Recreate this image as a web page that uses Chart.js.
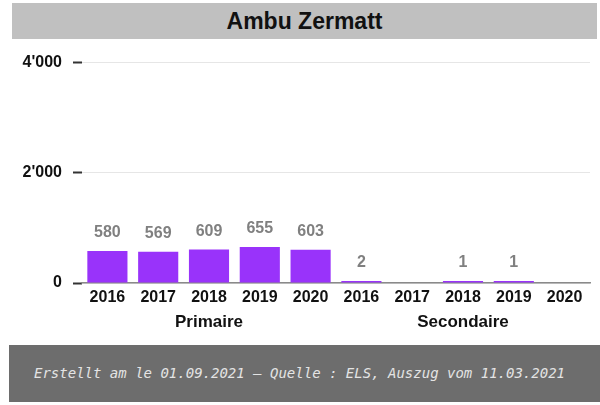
<!DOCTYPE html>
<html lang="fr">
<head>
  <meta charset="utf-8"/>
  <title>Ambu Zermatt</title>
  <script src="https://cdn.jsdelivr.net/npm/chart.js@4.4.0/dist/chart.umd.min.js"></script>
  <style>
    html, body { margin: 0; padding: 0; background: #fff; }
    body { width: 600px; height: 405px; position: relative; overflow: hidden; font-family: "Liberation Sans", Arial, sans-serif; }
    #titleBar {
      position: absolute; left: 12px; top: 3px; width: 585px; height: 36px;
      background: #c0c0c0; color: #111;
      font-size: 23px; font-weight: bold; line-height: 36px; text-align: center;
    }
    #chartBox { position: absolute; left: 0; top: 42px; width: 600px; height: 300px; }
    #footer {
      position: absolute; left: 9px; top: 345px; width: 591px; height: 57px;
      background: #6d6d6d; color: #e4e4e4;
      font-family: "DejaVu Sans Mono", monospace; font-style: italic;
      font-size: 14px; line-height: 57px; padding-left: 25px; box-sizing: border-box;
    }
  </style>
</head>
<body>
<div id="titleBar">Ambu Zermatt</div>
<div id="chartBox"><canvas id="barChart"></canvas></div>
<div id="footer">Erstellt am le 01.09.2021 – Quelle : ELS, Auszug vom 11.03.2021</div>

<script>
// Werte
const years = ['2016', '2017', '2018', '2019', '2020'];
const groups = ['Primaire', 'Secondaire'];
const primaire = [580, 569, 609, 655, 603];
const secondaire = [2, null, 1, 1, null];
const yTicks = [0, 2000, 4000];

const labels = groups.flatMap(() => years);
const values = primaire.concat(secondaire);

function fmt(v) {
  return String(v).replace(/\B(?=(\d{3})+(?!\d))/g, "'");
}

// Zahlen über den Balken
const valueLabels = {
  id: 'valueLabels',
  afterDatasetsDraw(chart) {
    const ctx = chart.ctx;
    const meta = chart.getDatasetMeta(0);
    ctx.save();
    ctx.font = 'bold 16px "Liberation Sans", Arial, sans-serif';
    ctx.fillStyle = '#808080';
    ctx.textAlign = 'center';
    ctx.textBaseline = 'middle';
    meta.data.forEach((bar, i) => {
      const v = values[i];
      if (v == null) return;
      ctx.fillText(fmt(v), bar.x, bar.y - 18);
    });
    ctx.restore();
  }
};

// Gruppennamen unter den Jahren
const groupLabels = {
  id: 'groupLabels',
  afterDraw(chart) {
    const ctx = chart.ctx;
    const x = chart.scales.x;
    ctx.save();
    ctx.font = 'bold 17px "Liberation Sans", Arial, sans-serif';
    ctx.fillStyle = '#111';
    ctx.textAlign = 'center';
    ctx.textBaseline = 'middle';
    groups.forEach((g, gi) => {
      const first = gi * years.length;
      const last = first + years.length - 1;
      const cx = (x.getPixelForTick(first) + x.getPixelForTick(last)) / 2;
      ctx.fillText(g, cx, chart.chartArea.bottom + 39);
    });
    ctx.restore();
  }
};

new Chart(document.getElementById('barChart'), {
  type: 'bar',
  data: {
    labels: labels,
    datasets: [{
      data: values,
      backgroundColor: '#9933fa',
      borderWidth: 0,
      minBarLength: 2,
      categoryPercentage: 1,
      barPercentage: 0.79
    }]
  },
  options: {
    responsive: true,
    maintainAspectRatio: false,
    animation: false,
    layout: { padding: { top: 19, right: 10, left: 0, bottom: 0 } },
    plugins: {
      legend: { display: false },
      title: { display: false },
      tooltip: { enabled: false }
    },
    scales: {
      x: {
        grid: { display: false, drawTicks: false },
        border: { display: true, color: '#8a8a8a', width: 1.5 },
        ticks: {
          color: '#111',
          font: { family: '"Liberation Sans", Arial, sans-serif', size: 16, weight: 'bold' },
          padding: 5,
          maxRotation: 0,
          autoSkip: false
        },
        afterFit(scale) { scale.height = 59; }
      },
      y: {
        min: 0,
        max: 4000,
        afterBuildTicks(scale) { scale.ticks = yTicks.map(v => ({ value: v })); },
        grid: {
          color: '#e6e6e6',
          tickColor: '#333',
          tickLength: 9,
          tickWidth: 2
        },
        border: { display: false },
        ticks: {
          color: '#111',
          font: { family: '"Liberation Sans", Arial, sans-serif', size: 16, weight: 'bold' },
          padding: 11,
          callback: v => fmt(v)
        },
        afterFit(scale) { scale.width = 82; }
      }
    }
  },
  plugins: [valueLabels, groupLabels]
});
</script>
</body>
</html>
